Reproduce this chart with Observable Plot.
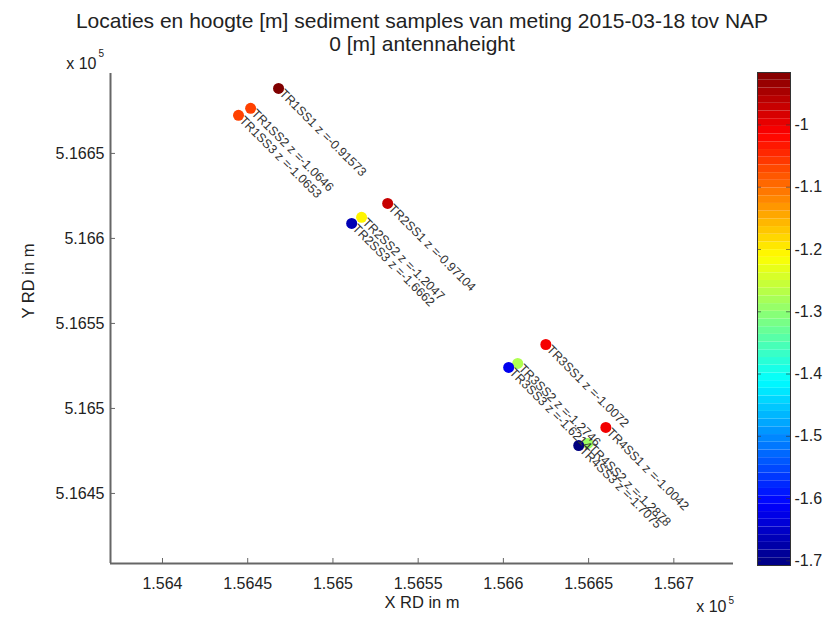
<!DOCTYPE html>
<html>
<head>
<meta charset="utf-8">
<script src="https://cdn.jsdelivr.net/npm/d3@7"></script>
<script src="https://cdn.jsdelivr.net/npm/@observablehq/plot@0.6"></script>
<style>
  body { margin: 0; background: #fff; }
  #wrap { position: relative; width: 835px; height: 626px; font-family: "Liberation Sans", Arial, sans-serif; }
  #wrap svg { position: absolute; top: 0; background: transparent; }
</style>
</head>
<body>
<div id="wrap"></div>
<script>
// ---- data ----
const ids = ["TR1SS1","TR1SS2","TR1SS3","TR2SS1","TR2SS2","TR2SS3","TR3SS1","TR3SS2","TR3SS3","TR4SS1","TR4SS2","TR4SS3"];
const xs = [156468.1,156451.7,156444.6,156532.1,156516.8,156511.0,156624.9,156608.4,156603.1,156660.1,156649.5,156644.2];
const ys = [516688.2,516676.5,516672.4,516620.6,516612.4,516608.8,516537.6,516526.5,516524.1,516488.8,516479.4,516478.2];
const zs = [-0.91573,-1.0646,-1.0653,-0.97104,-1.2047,-1.6662,-1.0072,-1.2746,-1.6214,-1.0042,-1.2878,-1.7075];
const xTicks = [156400,156450,156500,156550,156600,156650,156700];
const yTicks = [516450,516500,516550,516600,516650];
const cbTicks = [-1,-1.1,-1.2,-1.3,-1.4,-1.5,-1.6,-1.7];
const xDomain = [156369.5, 156735];
const yDomain = [516408.8, 516697];
const titleLines = ["Locaties en hoogte [m] sediment samples van meting 2015-03-18 tov NAP", "0 [m] antennaheight"];

// jet colormap stops
const jetT = [0, 0.125, 0.375, 0.625, 0.875, 1];
const jetColors = ["#000080", "#0000ff", "#00ffff", "#ffff00", "#ff0000", "#800000"];
const zmin = d3.min(zs), zmax = d3.max(zs);
const colorScale = {type: "linear", domain: jetT.map(t => zmin + t * (zmax - zmin)), range: jetColors, interpolate: "rgb"};

const data = ids.map((id, i) => ({id, x: xs[i], y: ys[i], z: zs[i], label: `${id} z =${zs[i]}`}));

const font = "'Liberation Sans', Arial, sans-serif";
const wrap = document.getElementById("wrap");

const main = Plot.plot({
  width: 835, height: 626,
  marginLeft: 110, marginRight: 102, marginTop: 73, marginBottom: 63,
  style: {fontFamily: font, fontSize: "16px", color: "#222", background: "transparent", overflow: "visible"},
  x: {domain: xDomain, axis: null},
  y: {domain: yDomain, axis: null},
  color: colorScale,
  marks: [
    Plot.ruleX([xDomain[0]], {stroke: "#666", strokeWidth: 2}),
    Plot.ruleY([yDomain[0]], {stroke: "#666", strokeWidth: 2}),
    Plot.tickX(xTicks, {x: d => d, insetTop: 485, stroke: "#666"}),
    Plot.tickY(yTicks, {y: d => d, insetRight: 618, stroke: "#666"}),
    Plot.axisX(xTicks, {anchor: "bottom", tickSize: 0, tickPadding: 14, tickFormat: d => String(d / 1e5), label: null, fontSize: 16}),
    Plot.axisY(yTicks, {anchor: "left", tickSize: 0, tickPadding: 6, tickFormat: d => String(d / 1e5), label: null, fontSize: 16}),
    Plot.dot(data, {x: "x", y: "y", fill: "z", r: 5.5}),
    Plot.text(data, {x: "x", y: "y", text: "label", rotate: 45, textAnchor: "start", dx: 3, dy: 3, fontSize: 12.5, fill: "#333"}),
    Plot.text([titleLines[0]], {frameAnchor: "top", dy: -60, fontSize: 21, fill: "#222"}),
    Plot.text([titleLines[1]], {frameAnchor: "top", dy: -37, fontSize: 21, fill: "#222"}),
    Plot.text(["X RD in m"], {frameAnchor: "bottom", dy: 44, fontSize: 16.5, fill: "#222"}),
    Plot.text(["Y RD in m"], {frameAnchor: "left", dx: -82, rotate: -90, fontSize: 16.5, fill: "#222"}),
    Plot.text(["x 10"], {frameAnchor: "top-left", dx: -14, dy: -16, textAnchor: "end", fontSize: 16, fill: "#222"}),
    Plot.text(["5"], {frameAnchor: "top-left", dx: -12, dy: -24, textAnchor: "start", fontSize: 10, fill: "#222"}),
    Plot.text(["x 10"], {frameAnchor: "bottom-right", dx: -7, dy: 48, textAnchor: "end", fontSize: 16, fill: "#222"}),
    Plot.text(["5"], {frameAnchor: "bottom-right", dx: -5, dy: 40, textAnchor: "start", fontSize: 10, fill: "#222"})
  ]
});
main.style.left = "0px";
wrap.appendChild(main);

// ---- colorbar ----
const nSteps = 64;
const dz = (zmax - zmin) / nSteps;
const steps = d3.range(nSteps).map(i => zmin + i * dz);
const cb = Plot.plot({
  width: 95, height: 626,
  marginLeft: 17, marginRight: 45, marginTop: 72, marginBottom: 61,
  style: {fontFamily: font, fontSize: "16px", color: "#222", background: "transparent", overflow: "visible"},
  x: {domain: [0, 1], axis: null},
  y: {domain: [zmin, zmax], axis: null},
  color: colorScale,
  marks: [
    Plot.rect(steps, {x1: 0, x2: 1, y1: d => d, y2: d => d + dz, fill: d => d + dz / 2}),
    Plot.frame({stroke: "#333"}),
    Plot.tickY(cbTicks, {y: d => d, insetRight: 29, stroke: "#333", strokeOpacity: 0.6}),
    Plot.tickY(cbTicks, {y: d => d, insetLeft: 29, stroke: "#333", strokeOpacity: 0.6}),
    Plot.axisY(cbTicks, {anchor: "right", tickSize: 0, tickPadding: 4, tickFormat: d => String(d), label: null, fontSize: 16})
  ]
});
cb.style.left = "740px";
wrap.appendChild(cb);
</script>
</body>
</html>
